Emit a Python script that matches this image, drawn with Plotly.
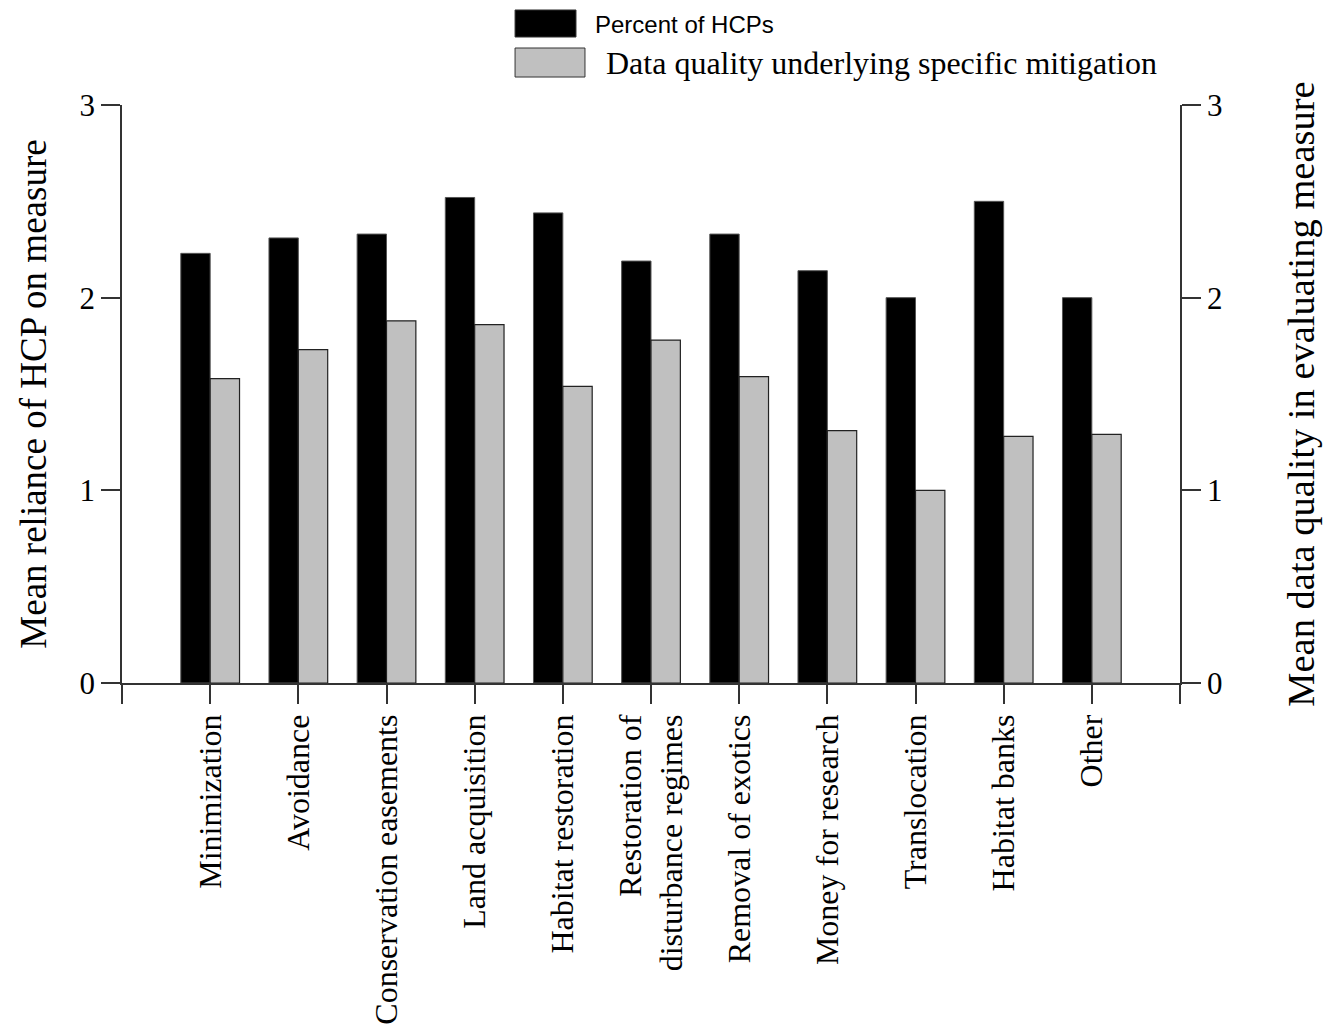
import plotly.graph_objects as go

categories = ["Minimization", "Avoidance", "Conservation easements", "Land acquisition",
              "Habitat restoration", "Restoration of<br>disturbance regimes", "Removal of exotics",
              "Money for research", "Translocation", "Habitat banks", "Other"]
reliance = [2.23, 2.31, 2.33, 2.52, 2.44, 2.19, 2.33, 2.14, 2.00, 2.50, 2.00]
data_quality = [1.58, 1.73, 1.88, 1.86, 1.54, 1.78, 1.59, 1.31, 1.00, 1.28, 1.29]
y_ticks = [0, 1, 2, 3]
legend_names = ["Percent of HCPs", "Data quality underlying specific mitigation"]

SERIF = "Liberation Serif, Times New Roman, serif"
SANS = "Liberation Sans, Arial, sans-serif"
BLACK = "#000000"
GRAY = "#c0c0c0"
AX = "#333333"

xpos = list(range(len(categories)))

fig = go.Figure()
fig.add_trace(go.Bar(x=xpos, y=reliance, name=legend_names[0], width=0.333, offset=-0.333,
                     marker=dict(color=BLACK, line=dict(color="#555555", width=1)),
                     yaxis="y", showlegend=False))
fig.add_trace(go.Bar(x=xpos, y=data_quality, name=legend_names[1], width=0.333, offset=0,
                     marker=dict(color=GRAY, line=dict(color="#222222", width=1.2)),
                     yaxis="y2", showlegend=False))

tickvals = list(range(-1, len(categories) + 1))
ticktext = [""] + categories + [""]

fig.update_layout(
    width=1335, height=1029,
    margin=dict(l=114, r=163, t=97, b=354),
    paper_bgcolor="white", plot_bgcolor="white",
    font=dict(family=SERIF, color="black"),
    barmode="overlay",
    xaxis=dict(range=[-1, len(categories)], tickmode="array", tickvals=tickvals, ticktext=ticktext,
               tickangle=-90, ticks="outside", ticklen=19, tickcolor=AX, tickwidth=1.5,
               showline=True, linecolor=AX, linewidth=1.5, showgrid=False, zeroline=False,
               ticklabelstandoff=-2,
               tickfont=dict(family=SERIF, size=32, color="black")),
    yaxis=dict(range=[0, 3], tickvals=y_ticks, ticks="outside", ticklen=19, tickcolor=AX, tickwidth=1.5,
               showline=True, linecolor=AX, linewidth=1.5, showgrid=False, zeroline=False,
               tickfont=dict(family=SERIF, size=31, color="black"),
               title=dict(text="Mean reliance of HCP on measure", font=dict(family=SERIF, size=37), standoff=22)),
    yaxis2=dict(range=[0, 3], tickvals=y_ticks, ticks="outside", ticklen=19, tickcolor=AX, tickwidth=1.5,
                showline=True, linecolor=AX, linewidth=1.5, showgrid=False, zeroline=False,
                overlaying="y", side="right",
                tickfont=dict(family=SERIF, size=31, color="black"),
                title=dict(text="Mean data quality in evaluating measure", font=dict(family=SERIF, size=38.5), standoff=66)),
    shapes=[
        dict(type="rect", xref="paper", yref="paper", x0=0.3715, x1=0.4291, y0=1.1176, y1=1.1644,
             fillcolor=BLACK, line=dict(color="#333333", width=1)),
        dict(type="rect", xref="paper", yref="paper", x0=0.3715, x1=0.4376, y0=1.0484, y1=1.0986,
             fillcolor=GRAY, line=dict(color="#333333", width=1)),
    ],
    annotations=[
        dict(text=legend_names[0], xref="paper", yref="paper", x=0.4452, y=1.1401, xanchor="left",
             yanchor="middle", showarrow=False, font=dict(family=SANS, size=24, color="black")),
        dict(text=legend_names[1], xref="paper", yref="paper", x=0.4556, y=1.0727, xanchor="left",
             yanchor="middle", showarrow=False, font=dict(family=SERIF, size=32, color="black")),
    ],
)

fig.write_html("out.html")
